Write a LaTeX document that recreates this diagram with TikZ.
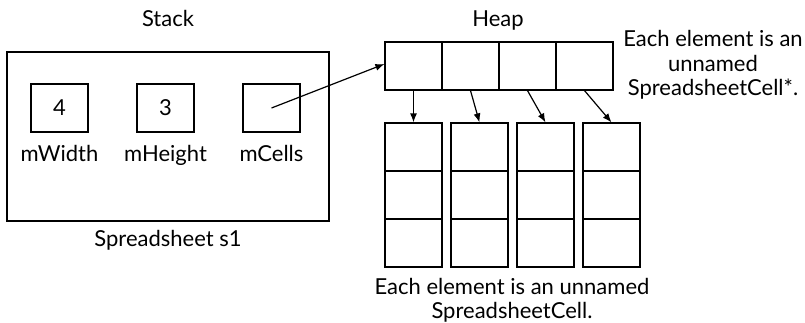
\documentclass[tikz,border=0pt]{standalone}
\usepackage{fontspec}
\setmainfont{Lato}
\usetikzlibrary{arrows.meta,positioning}

\begin{document}
\begin{tikzpicture}[x=1pt,y=-1pt,line width=1.2pt,
    every node/.style={font=\fontsize{22}{24.5}\selectfont},
    box/.style={draw,minimum width=57pt,minimum height=48pt,inner sep=0pt},
    ptr/.style={-{Latex[length=9pt,width=7pt]}}]
    \useasboundingbox (0,0) rectangle (805,322);
    % Stack frame
    \node[draw,minimum width=322pt,minimum height=169pt] (frame) at (168,136.5) {};
    \node[anchor=base] (stack) at (168,26) {Stack};
    \node[anchor=base] (s1) at (168,246) {Spreadsheet s1};
    \node[box] (width) at (59.5,108) {4};
    \node[box] (height) at (165.5,108) {3};
    \node[box] (cells) at (271.5,108) {};
    \node[anchor=base] (wlabel) at (59.5,161) {mWidth};
    \node[anchor=base] (hlabel) at (165.5,161) {mHeight};
    \node[anchor=base] (clabel) at (271.5,161) {mCells};
    % Heap pointer array
    \node[anchor=base] (heap) at (498,26) {Heap};
    \node[box] (p1) at (413.5,66) {};
    \node[box] (p2) at (470.5,66) {};
    \node[box] (p3) at (527.5,66) {};
    \node[box] (p4) at (584.5,66) {};
    \node[align=center] (ptrnote) at (713,65) {Each element is an\\unnamed\\SpreadsheetCell*.};
    % Cell columns
    \node[box] (c1a) at (413.5,147) {};
    \node[box] (c1b) at (413.5,195) {};
    \node[box] (c1c) at (413.5,243) {};
    \node[box] (c2a) at (479.5,147) {};
    \node[box] (c2b) at (479.5,195) {};
    \node[box] (c2c) at (479.5,243) {};
    \node[box] (c3a) at (545.5,147) {};
    \node[box] (c3b) at (545.5,195) {};
    \node[box] (c3c) at (545.5,243) {};
    \node[box] (c4a) at (611.5,147) {};
    \node[box] (c4b) at (611.5,195) {};
    \node[box] (c4c) at (611.5,243) {};
    \node[align=center,font=\fontsize{22}{24}\selectfont] (cellnote) at (512,300) {Each element is an unnamed\\SpreadsheetCell.};
    % Pointers
    \coordinate (mstart) at (cells.center);
    \draw[ptr] (mstart) -- ([yshift=2pt]p1.west);
    \draw[ptr] (p1.south) -- (c1a.north);
    \draw[ptr] (p2.south) -- (c2a.north);
    \draw[ptr] (p3.south) -- (c3a.north);
    \draw[ptr] (p4.south) -- (c4a.north);
\end{tikzpicture}
\end{document}
